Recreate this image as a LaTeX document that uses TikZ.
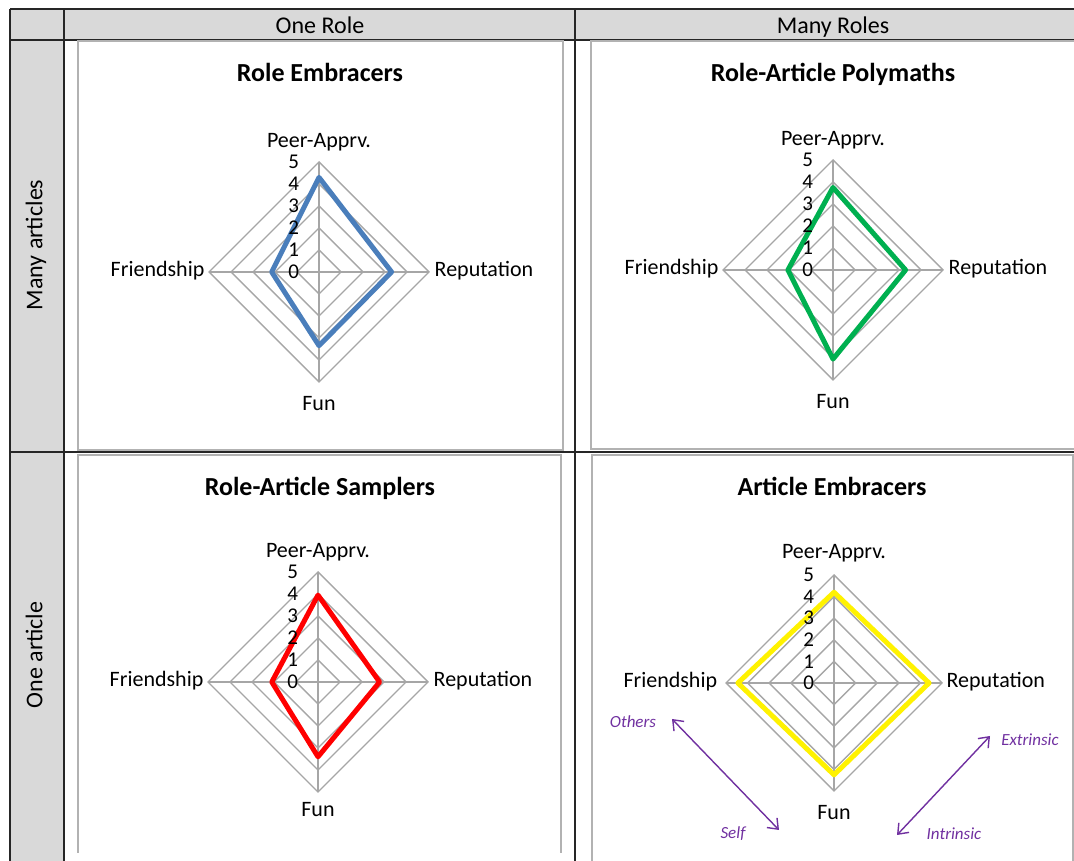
\documentclass[tikz,border=0pt]{standalone}
\usepackage{fontspec}
\setmainfont{Carlito}
\usetikzlibrary{arrows.meta}
\definecolor{xlblue}{HTML}{4A7EBB}
\definecolor{xlgreen}{HTML}{00B050}
\definecolor{xlpurple}{HTML}{7030A0}
\definecolor{hdgray}{HTML}{D9D9D9}

\begin{document}
\begin{tikzpicture}[x=1pt,y=1pt,
        hd/.style={font=\fontsize{24}{28}\selectfont, text height=16pt, text depth=5pt},
        ttl/.style={font=\fontsize{26}{30}\selectfont\bfseries, text height=17pt, text depth=6pt},
        ax/.style={font=\fontsize{22}{26}\selectfont, inner sep=0pt, text height=15pt, text depth=5pt},
        tk/.style={font=\fontsize{21}{24}\selectfont, anchor=east, inner sep=0pt},
        rim/.style={draw=black!35, line width=1.4pt},
        panel/.style={draw=black!30, line width=1.4pt},
        rule/.style={draw=black!85, line width=1.6pt},
        series/.style={line width=5pt, line join=round},
        note/.style={font=\fontsize{17}{20}\selectfont\itshape, text=xlpurple},
        dim/.style={xlpurple, line width=1.4pt,
            {Straight Barb[length=9pt,width=14pt]}-{Straight Barb[length=9pt,width=14pt]}}]
    \useasboundingbox (0,0) rectangle (1074,861);

    % table
    \fill[hdgray] (10,821) rectangle (1080,852);
    \fill[hdgray] (10,-5) rectangle (64,852);
    \draw[rule] (10,852) -- (1080,852);
    \draw[rule] (10,821) -- (1080,821);
    \draw[rule] (10,409) -- (1080,409);
    \draw[rule] (10,-5) -- (10,852);
    \draw[rule] (64,-5) -- (64,852);
    \draw[rule] (575,-5) -- (575,852);
    \node[hd] (onerole) at (320,833) {One Role};
    \node[hd] (manyroles) at (833,833) {Many Roles};
    \node[hd, rotate=90] (manyart) at (37,616) {Many articles};
    \node[hd, rotate=90] (oneart) at (37,206) {One article};

    % chart panels
    \draw[panel] (78,411) rectangle (563,820);
    \draw[panel] (591,412) rectangle (1080,820);
    \draw[panel] (78,8) -- (78,406) -- (561,406) -- (561,8);
    \draw[panel] (592,-5) -- (592,406) -- (1073,406) -- (1073,-5);

    \node[ttl] (tembr) at (320,785) {Role Embracers};
    \node[ttl] (tpoly) at (833,785) {Role-Article Polymaths};
    \node[ttl] (tsamp) at (320,371) {Role-Article Samplers};
    \node[ttl] (tartembr) at (832,371) {Article Embracers};

    \begin{scope}[shift={(319,589)}, x=22pt, y=22pt]
        \foreach \r in {1,...,5}
            \draw[rim] (90:\r) -- (0:\r) -- (270:\r) -- (180:\r) -- cycle;
        \draw[rim] (90:5) -- (270:5) (0:5) -- (180:5);
        \draw[series, xlblue] (90:4.3) -- (0:3.3) -- (270:3.35) -- (180:2.15) -- cycle;
        \foreach \r in {0,...,5}
            \node[tk] (ka\r) at (-0.9,\r) {\r};
        \draw (90:5.9) node[ax](pa){Peer-Apprv.};
        \draw (0:5.25) node[ax, anchor=west](ra){Reputation};
        \draw (270:6.05) node[ax](fa){Fun};
        \draw (180:5.2) node[ax, anchor=east](fra){Friendship};
    \end{scope}

    \begin{scope}[shift={(833,591)}, x=22pt, y=22pt]
        \foreach \r in {1,...,5}
            \draw[rim] (90:\r) -- (0:\r) -- (270:\r) -- (180:\r) -- cycle;
        \draw[rim] (90:5) -- (270:5) (0:5) -- (180:5);
        \draw[series, xlgreen] (90:3.75) -- (0:3.3) -- (270:4.05) -- (180:2.05) -- cycle;
        \foreach \r in {0,...,5}
            \node[tk] (kb\r) at (-0.9,\r) {\r};
        \draw (90:5.9) node[ax](pb){Peer-Apprv.};
        \draw (0:5.25) node[ax, anchor=west](rb){Reputation};
        \draw (270:6.05) node[ax](fb){Fun};
        \draw (180:5.2) node[ax, anchor=east](frb){Friendship};
    \end{scope}

    \begin{scope}[shift={(318,179)}, x=22pt, y=22pt]
        \foreach \r in {1,...,5}
            \draw[rim] (90:\r) -- (0:\r) -- (270:\r) -- (180:\r) -- cycle;
        \draw[rim] (90:5) -- (270:5) (0:5) -- (180:5);
        \draw[series, red] (90:3.95) -- (0:2.8) -- (270:3.4) -- (180:2.1) -- cycle;
        \foreach \r in {0,...,5}
            \node[tk] (kc\r) at (-0.9,\r) {\r};
        \draw (90:5.9) node[ax](pc){Peer-Apprv.};
        \draw (0:5.25) node[ax, anchor=west](rc){Reputation};
        \draw (270:5.9) node[ax](fc){Fun};
        \draw (180:5.2) node[ax, anchor=east](frc){Friendship};
    \end{scope}

    \begin{scope}[shift={(834,178)}, x=21.6pt, y=21.6pt]
        \foreach \r in {1,...,5}
            \draw[rim] (90:\r) -- (0:\r) -- (270:\r) -- (180:\r) -- cycle;
        \draw[rim] (90:5) -- (270:5) (0:5) -- (180:5);
        \draw[series, yellow] (90:4.2) -- (0:4.4) -- (270:4.25) -- (180:4.45) -- cycle;
        \foreach \r in {0,...,5}
            \node[tk] (kd\r) at (-0.92,\r) {\r};
        \draw (90:6.0) node[ax](pd){Peer-Apprv.};
        \draw (0:5.2) node[ax, anchor=west](rd){Reputation};
        \draw (270:6.1) node[ax](fd){Fun};
        \draw (180:5.4) node[ax, anchor=east](frd){Friendship};
    \end{scope}

    % motive directions
    \node[note] (others) at (633,139) {Others};
    \node[note] (self) at (733,27) {Self};
    \node[note] (extr) at (1030,121) {Extrinsic};
    \node[note] (intr) at (954,27) {Intrinsic};
    \coordinate (oth) at (672,142);
    \coordinate (slf) at (779,31);
    \coordinate (ext) at (990,125);
    \coordinate (int) at (897,26);
    \draw[dim] (oth) -- (slf);
    \draw[dim] (ext) -- (int);
\end{tikzpicture}
\end{document}
